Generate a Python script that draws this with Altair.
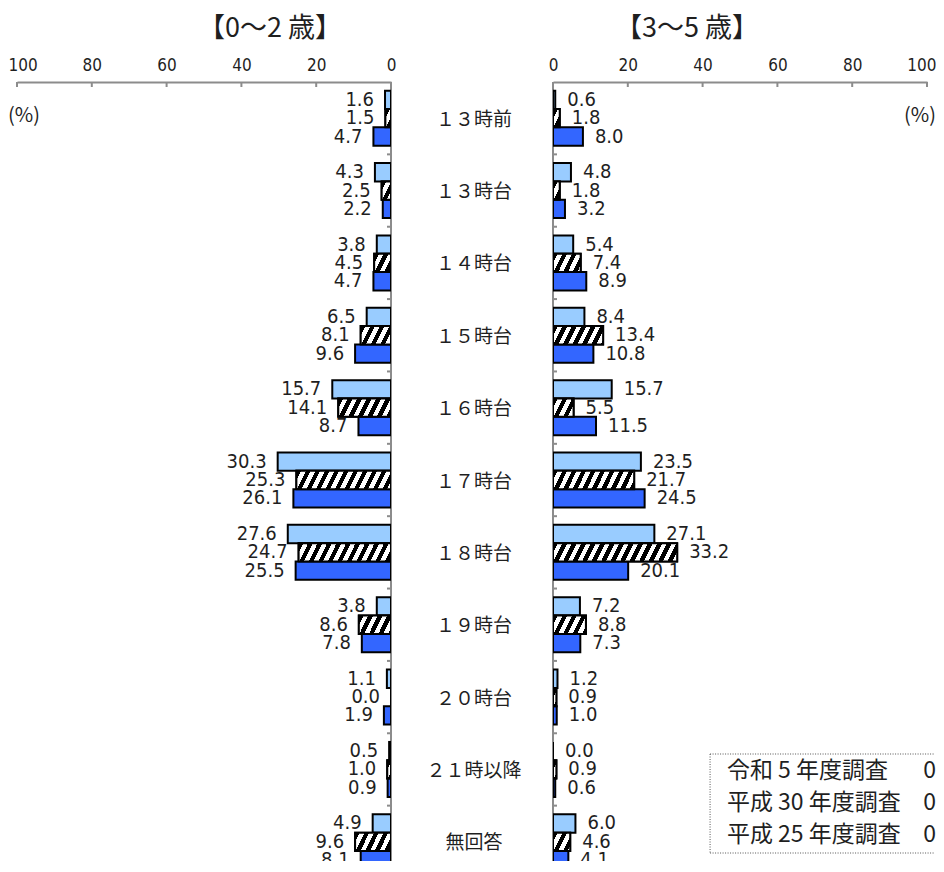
import altair as alt

# ---------------- data ----------------
categories = ["１３時前", "１３時台", "１４時台", "１５時台", "１６時台", "１７時台",
              "１８時台", "１９時台", "２０時台", "２１時以降", "無回答"]
series = ["令和5年度調査", "平成30年度調査", "平成25年度調査"]

age02_r5 = [1.6, 4.3, 3.8, 6.5, 15.7, 30.3, 27.6, 3.8, 1.1, 0.5, 4.9]
age02_h30 = [1.5, 2.5, 4.5, 8.1, 14.1, 25.3, 24.7, 8.6, 0.0, 1.0, 9.6]
age02_h25 = [4.7, 2.2, 4.7, 9.6, 8.7, 26.1, 25.5, 7.8, 1.9, 0.9, 8.1]

age35_r5 = [0.6, 4.8, 5.4, 8.4, 15.7, 23.5, 27.1, 7.2, 1.2, 0.0, 6.0]
age35_h30 = [1.8, 1.8, 7.4, 13.4, 5.5, 21.7, 33.2, 8.8, 0.9, 0.9, 4.6]
age35_h25 = [8.0, 3.2, 8.9, 10.8, 11.5, 24.5, 20.1, 7.3, 1.0, 0.6, 4.1]

tick_values = [0, 20, 40, 60, 80, 100]
panel_titles = ["【0〜2 歳】", "【3〜5 歳】"]
legend_lines = ["令和  5 年度調査", "平成 30 年度調査", "平成 25 年度調査"]
legend_age = "0"
unit_label = "(%)"

# ---------------- layout / style ----------------
PANEL_W = 374
MID_W = 162
PLOT_H_FULL = 796      # extent of the 11 category bands
PLOT_H = 779           # visible part (the reference is cropped at the bottom)
PX_PER_UNIT = PANEL_W / 100
PAD_INNER = 0.24
STEP = PLOT_H_FULL / len(categories)
BAR_H = STEP * (1 - PAD_INNER) / len(series)
GROUP_EDGE_PX = -STEP * PAD_INNER / 2      # from band start up to the group boundary
TICK_LEN_UNITS = 4 / PX_PER_UNIT
HATCH_PERIOD = 9.5
HATCH_SLANT = 9.0

AXIS_GRAY = "#8c8c8c"
TEXT = "#1f1f1f"
NUM_FONT = "Liberation Sans Narrow, DejaVu Sans Condensed, sans-serif"
JP_FONT = "Noto Sans CJK JP"
COLORS = ["#99ccff", "#ffffff", "#3366ff"]


def hatch_fill(v):
    """Diagonal '/' stripes of fixed pixel period, as a bbox-relative gradient."""
    w = v * PX_PER_UNIT
    s = HATCH_SLANT
    total = w + s
    a = total / (w * w + s * s)
    stops = []
    f = 0.0
    while f < total - 1e-9:
        b = min(f + HATCH_PERIOD / 2, total)
        e = min(f + HATCH_PERIOD, total)
        stops += [{"offset": f / total, "color": "#000000"},
                  {"offset": b / total, "color": "#000000"},
                  {"offset": b / total, "color": "#ffffff"},
                  {"offset": e / total, "color": "#ffffff"}]
        f += HATCH_PERIOD
    return {"gradient": "linear", "x1": 0, "y1": 0, "x2": a * w, "y2": a * s, "stops": stops}


y_scale = alt.Scale(domain=categories, paddingInner=PAD_INNER, paddingOuter=PAD_INNER / 2,
                    range=[0, PLOT_H_FULL])


def one_row(t=""):
    return alt.Data(values=[{"t": t}])


def panel(values, left, title, title_dx):
    rows = []
    for s, vals in zip(series, values):
        for c, v in zip(categories, vals):
            row = {"cat": c, "series": s, "value": v}
            if s == series[1]:
                row["hatch"] = hatch_fill(v)
            rows.append(row)
    base = alt.Chart(alt.Data(values=rows))

    x_scale = alt.Scale(domain=[0, 100], reverse=left, nice=False)
    # outermost "100" label anchored by its outer edge so the page keeps its width
    edge_align = "left" if left else "right"
    edge_offset = -9 if left else 9
    x_axis = alt.Axis(
        orient="top", values=tick_values, title=None, grid=False, ticks=False,
        labelFont=NUM_FONT, labelFontSize=17, labelColor=TEXT,
        labelPadding=8, labelFlush=False, labelOverlap=False,
        labelAlign={"condition": {"test": "datum.value == 100", "value": edge_align},
                    "value": "center"},
        labelOffset={"condition": {"test": "datum.value == 100", "value": edge_offset},
                     "value": 0},
        domainColor=AXIS_GRAY, domainWidth=2)
    x_enc = alt.X("value:Q", stack=None, scale=x_scale, axis=x_axis)
    y_enc = alt.Y("cat:N", sort=categories, scale=y_scale, axis=None)
    yoff = alt.YOffset("series:N", sort=series,
                       scale=alt.Scale(domain=series, paddingInner=0, paddingOuter=0))

    def xd(v):
        return alt.X(datum=v, scale=x_scale, axis=x_axis)

    # axis ticks pointing into the plot, as in the reference
    x_ticks = alt.Chart(alt.Data(values=[{"value": t} for t in tick_values])).mark_rule(
        color=AXIS_GRAY, strokeWidth=2
    ).encode(x=x_enc, y=alt.value(0), y2=alt.value(5))
    y_ticks = alt.Chart(alt.Data(values=[{"cat": c} for c in categories])).mark_rule(
        color=AXIS_GRAY, strokeWidth=2, clip=True, yOffset=GROUP_EDGE_PX
    ).encode(
        y=alt.Y("cat:N", sort=categories, scale=y_scale, axis=None, bandPosition=0),
        x=xd(0), x2=alt.X2(datum=TICK_LEN_UNITS),
    )
    zero_line = alt.Chart(one_row()).mark_rule(color=AXIS_GRAY, strokeWidth=2).encode(
        x=xd(0), y=alt.value(0), y2=alt.value(PLOT_H))

    bars = base.mark_bar(stroke="black", strokeWidth=2, clip=True).encode(
        x=x_enc, y=y_enc, yOffset=yoff,
        fill=alt.Fill("series:N", scale=alt.Scale(domain=series, range=COLORS), legend=None),
    )
    hatch = base.transform_filter(alt.datum.series == series[1]).mark_bar(
        stroke="black", strokeWidth=2, clip=True
    ).encode(
        x=x_enc, y=y_enc, yOffset=yoff,
        fill=alt.Fill("hatch:N", scale=None, legend=None),
    )
    labels = base.mark_text(
        align="right" if left else "left", baseline="middle", clip=True,
        dx=-11 if left else 12, font=NUM_FONT, fontSize=20, color=TEXT,
    ).encode(x=x_enc, y=y_enc, yOffset=yoff, text=alt.Text("value:Q", format=".1f"))

    pct = alt.Chart(one_row(unit_label)).mark_text(
        font=JP_FONT, fontSize=20, color=TEXT, align=edge_align, baseline="middle",
        dx=edge_offset,
    ).encode(x=xd(100), y=alt.value(34), text="t:N")

    layers = [x_ticks, y_ticks, zero_line, bars, hatch, labels, pct]

    if not left:
        box_style = dict(color="#555555", strokeWidth=1, strokeDash=[1, 1.5])
        box_top, box_bottom = 672, 771
        layers.append(alt.Chart(one_row()).mark_rule(**box_style).encode(
            x=xd(42), x2=alt.X2(datum=102), y=alt.value(box_top)))
        layers.append(alt.Chart(one_row()).mark_rule(**box_style).encode(
            x=xd(42), x2=alt.X2(datum=102), y=alt.value(box_bottom)))
        layers.append(alt.Chart(one_row()).mark_rule(**box_style).encode(
            x=xd(42), y=alt.value(box_top), y2=alt.value(box_bottom)))
        for i, line in enumerate(legend_lines):
            layers.append(alt.Chart(one_row(line)).mark_text(
                font=JP_FONT, fontSize=23, color=TEXT, align="left", baseline="middle"
            ).encode(x=xd(46.5), y=alt.value(689 + 32 * i), text="t:N"))
            layers.append(alt.Chart(one_row(legend_age)).mark_text(
                font=JP_FONT, fontSize=23, color=TEXT, align="right", baseline="middle",
                dx=9,
            ).encode(x=xd(100), y=alt.value(689 + 32 * i), text="t:N"))

    return alt.layer(*layers).properties(
        width=PANEL_W, height=PLOT_H,
        title=alt.TitleParams(title, dx=title_dx, offset=13, font=JP_FONT, fontSize=27,
                              fontWeight="normal", color=TEXT),
    )


left_chart = panel([age02_r5, age02_h30, age02_h25], True, panel_titles[0], 66)
right_chart = panel([age35_r5, age35_h30, age35_h25], False, panel_titles[1], -53)

mid = alt.Chart(alt.Data(values=[{"cat": c} for c in categories])).mark_text(
    font=JP_FONT, fontSize=19, color=TEXT, baseline="middle", dy=1.5, clip=True
).encode(
    y=alt.Y("cat:N", sort=categories, scale=y_scale, axis=None),
    x=alt.value(MID_W / 2 + 2),
    text="cat:N",
).properties(width=MID_W, height=PLOT_H)

chart = alt.hconcat(left_chart, mid, right_chart, spacing=0, bounds="flush").properties(
    padding={"left": 0, "top": 7, "right": 0, "bottom": 0}
).configure_view(stroke=None)

chart.save("out.html", embed_options={"renderer": "svg", "actions": False})
